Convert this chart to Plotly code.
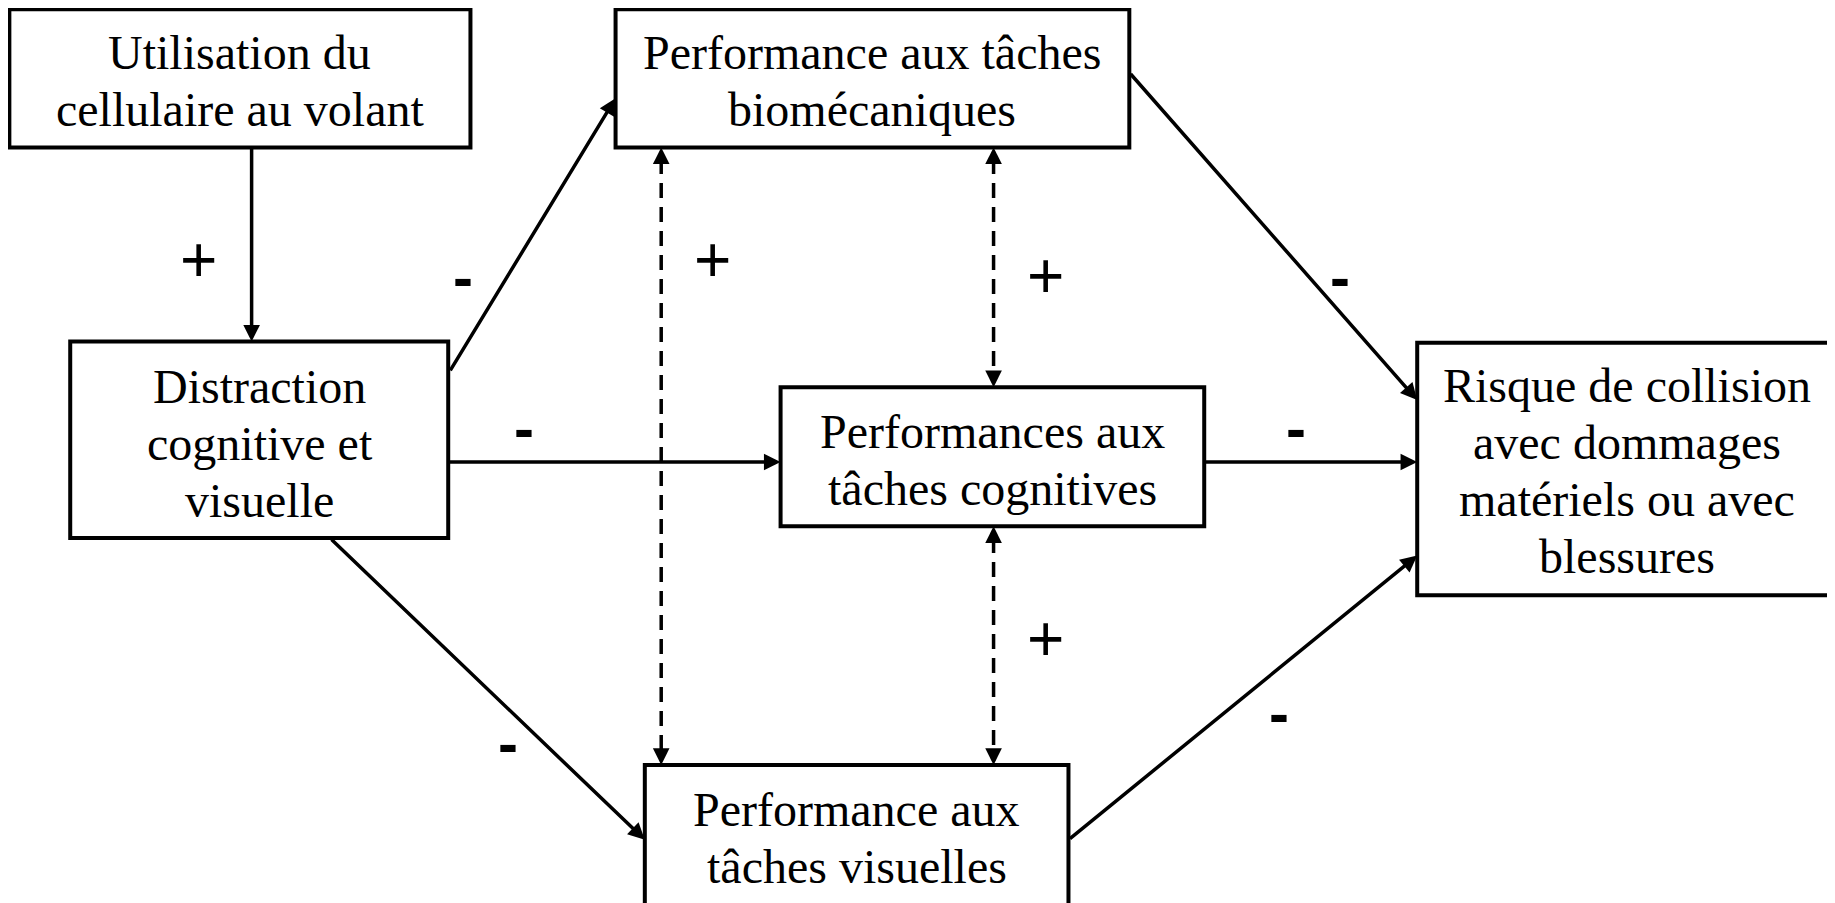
import plotly.graph_objects as go

# Diagram drawn in a 1568 x 772 coordinate space (y downwards)
W, H = 1568, 772
FIG_W, FIG_H = 1827, 895          # page body has an 8px margin
OFF = 8 * W / 1835                # that margin, in diagram units

node_names = ["use", "distr", "bio", "cog", "vis", "risk"]
node_labels = [
    "Utilisation du<br>cellulaire au volant",
    "Distraction<br>cognitive et<br>visuelle",
    "Performance aux tâches<br>biomécaniques",
    "Performances aux<br>tâches cognitives",
    "Performance aux<br>tâches visuelles",
    "Risque de collision<br>avec dommages<br>matériels ou avec<br>blessures",
]
node_x0 = [8, 60, 526, 667, 551, 1211]
node_x1 = [402, 383, 965, 1029, 913, 1580]
node_y0 = [8, 292, 8, 331, 654, 293]
node_y1 = [126, 460, 126, 450, 790, 509]
node_text_x = [205, 222, 745, 848, 732, 1390]
node_text_y = [69.5, 379, 69.5, 393, 716.5, 403]
LINE_GAP = 48.7

# Causal (solid) edges: tail -> head, with sign
edge_tail_x = [215, 384, 383, 282, 965, 1029, 913]
edge_tail_y = [126, 318, 395, 460, 62, 395, 718]
edge_head_x = [215, 526, 667, 551, 1211, 1211, 1211]
edge_head_y = [292, 84, 395, 718, 342, 395, 475]
edge_sign = ["+", "-", "-", "-", "-", "-", "-"]
edge_sign_x = [170, 396, 448, 434, 1145, 1107, 1093]
edge_sign_y = [222, 237, 366, 636, 237, 366, 610]

# Correlational (dashed, double-headed) links
corr_x = [565, 849, 849]
corr_y0 = [126, 126, 450]
corr_y1 = [654, 331, 654]
corr_sign = ["+", "+", "+"]
corr_sign_x = [609, 893, 893]
corr_sign_y = [222, 236, 546]

fig = go.Figure()
shapes = []
annotations = []

SERIF = "Liberation Serif, Times New Roman, serif"
SANS = "Liberation Sans, Arial, sans-serif"
LW = 3.5
AS = 0.95

for x0, x1, y0, y1 in zip(node_x0, node_x1, node_y0, node_y1):
    shapes.append(dict(type="rect", xref="x", yref="y", x0=x0, x1=x1, y0=y0, y1=y1,
                       line=dict(color="black", width=4), fillcolor="white", layer="below"))

for lbl, tx, ty in zip(node_labels, node_text_x, node_text_y):
    lines = lbl.split("<br>")
    n = len(lines)
    for i, line in enumerate(lines):
        ly = ty + (i - (n - 1) / 2) * LINE_GAP
        annotations.append(dict(x=tx, y=ly, xref="x", yref="y", text=line, showarrow=False,
                                font=dict(family=SERIF, size=48, color="black"),
                                xanchor="center", yanchor="middle"))

for tx, ty, hx, hy in zip(edge_tail_x, edge_tail_y, edge_head_x, edge_head_y):
    annotations.append(dict(x=hx, y=hy, ax=tx, ay=ty, xref="x", yref="y", axref="x", ayref="y",
                            text="", showarrow=True, arrowhead=2, arrowsize=AS, arrowwidth=LW,
                            arrowcolor="black", standoff=0, startstandoff=0))

# dashed lines with heads at both ends
for cx, y0, y1 in zip(corr_x, corr_y0, corr_y1):
    shapes.append(dict(type="line", xref="x", yref="y", x0=cx, x1=cx, y0=y0 + 10, y1=y1 - 10,
                       line=dict(color="black", width=LW, dash="15px,9px")))
    for hy, ty in [(y0, y0 + 14), (y1, y1 - 14)]:
        annotations.append(dict(x=cx, y=hy, ax=cx, ay=ty, xref="x", yref="y", axref="x", ayref="y",
                                text="", showarrow=True, arrowhead=2, arrowsize=AS, arrowwidth=LW,
                                arrowcolor="black", standoff=0))

for s, sx, sy in list(zip(edge_sign, edge_sign_x, edge_sign_y)) + list(zip(corr_sign, corr_sign_x, corr_sign_y)):
    if s == "+":
        annotations.append(dict(x=sx, y=sy, xref="x", yref="y", text="+", showarrow=False,
                                font=dict(family=SANS, size=64, color="black"),
                                xanchor="center", yanchor="middle"))
    else:
        annotations.append(dict(x=sx, y=sy, xref="x", yref="y", text="<b>-</b>", showarrow=False,
                                font=dict(family=SANS, size=60, color="black"),
                                xanchor="center", yanchor="middle"))

fig.update_layout(
    width=FIG_W, height=FIG_H,
    margin=dict(l=0, r=0, t=0, b=0),
    paper_bgcolor="white", plot_bgcolor="white",
    xaxis=dict(range=[OFF, W], visible=False, fixedrange=True),
    yaxis=dict(range=[H, OFF], visible=False, fixedrange=True),
    shapes=shapes, annotations=annotations, showlegend=False,
)

fig.write_html("out.html")
